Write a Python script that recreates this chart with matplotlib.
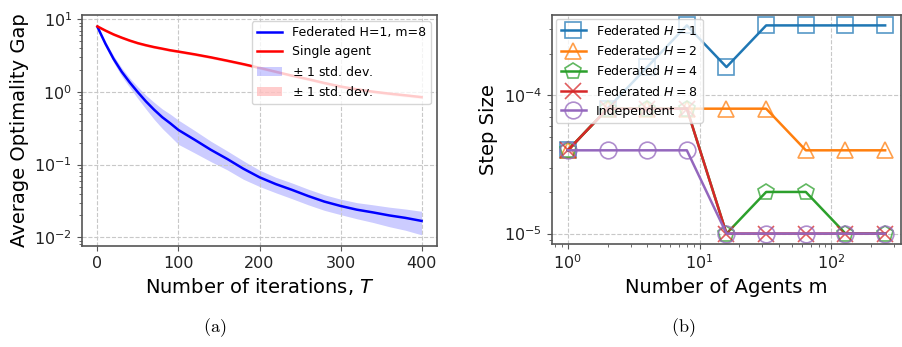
import matplotlib.pyplot as plt
from matplotlib.colors import to_rgba
import numpy as np

# (a) optimality gap vs iterations
iters = [0, 10, 20, 30, 40, 50, 60, 70, 80, 90, 100, 120, 140, 160, 180,
         200, 220, 240, 260, 280, 300, 320, 340, 360, 380, 400]
fed_mean = [7.9, 4.6, 2.85, 1.9, 1.35, 0.99, 0.74, 0.57, 0.45, 0.37, 0.30,
            0.22, 0.16, 0.12, 0.088, 0.067, 0.054, 0.045, 0.037, 0.031,
            0.027, 0.024, 0.022, 0.020, 0.0185, 0.0168]
fed_std = [0.3, 0.35, 0.3, 0.25, 0.2, 0.18, 0.16, 0.15, 0.135, 0.125, 0.11,
           0.075, 0.05, 0.035, 0.025, 0.017, 0.013, 0.011, 0.009, 0.0075,
           0.0065, 0.006, 0.006, 0.006, 0.006, 0.006]
single_mean = [8.0, 7.0, 6.2, 5.6, 5.1, 4.7, 4.4, 4.15, 3.95, 3.75, 3.6, 3.3,
               3.0, 2.7, 2.42, 2.15, 1.9, 1.68, 1.5, 1.33, 1.19, 1.09,
               1.01, 0.95, 0.9, 0.85]
single_std = [0.3, 0.28, 0.25, 0.22, 0.2, 0.18, 0.17, 0.16, 0.15, 0.15, 0.14,
              0.13, 0.12, 0.11, 0.1, 0.09, 0.08, 0.07, 0.065, 0.06, 0.055,
              0.05, 0.048, 0.045, 0.043, 0.04]

# (b) step size vs number of agents
agents = [1, 2, 4, 8, 16, 32, 64, 128, 256]
step_h1 = [4e-5, 8e-5, 1.6e-4, 3.2e-4, 1.6e-4, 3.2e-4, 3.2e-4, 3.2e-4, 3.2e-4]
step_h2 = [4e-5, 8e-5, 8e-5, 8e-5, 8e-5, 8e-5, 4e-5, 4e-5, 4e-5]
step_h4 = [4e-5, 8e-5, 8e-5, 8e-5, 1e-5, 2e-5, 2e-5, 1e-5, 1e-5]
step_h8 = [4e-5, 8e-5, 8e-5, 8e-5, 1e-5, 1e-5, 1e-5, 1e-5, 1e-5]
step_ind = [4e-5, 4e-5, 4e-5, 4e-5, 1e-5, 1e-5, 1e-5, 1e-5, 1e-5]

fig = plt.figure(figsize=(9.02, 3.47), dpi=100)
ax1 = fig.add_axes([82 / 902, 1 - 246 / 347, 355 / 902, 231 / 347])
ax2 = fig.add_axes([552 / 902, 1 - 244 / 347, 349 / 902, 229 / 347])

def style_axes(ax):
    ax.grid(True, which='major', linestyle='--', color='#c8c8c8', linewidth=0.8)
    for s in ax.spines.values():
        s.set_color('#555555')
        s.set_linewidth(1.2)
    ax.tick_params(which='both', colors='#555555', labelcolor='#222222', labelsize=11.5)

# panel (a)
it = np.array(iters)
fm, fs = np.array(fed_mean), np.array(fed_std)
sm, ss = np.array(single_mean), np.array(single_std)
ax1.plot(it, fm, color='blue', lw=1.8, label='Federated H=1, m=8')
ax1.plot(it, sm, color='red', lw=1.8, label='Single agent')
ax1.fill_between(it, fm - fs, fm + fs, color='blue', alpha=0.2, lw=0,
                 label=r'$\pm$ 1 std. dev.')
ax1.fill_between(it, sm - ss, sm + ss, color='red', alpha=0.2, lw=0,
                 label=r'$\pm$ 1 std. dev.')
ax1.set_yscale('log')
ax1.set_ylim(10 ** -2.12, 10 ** 1.06)
ax1.set_xlim(-19, 419)
ax1.set_xticks([0, 100, 200, 300, 400])
ax1.set_xlabel('Number of iterations, $T$', fontsize=14)
ax1.set_ylabel('Average Optimality Gap', fontsize=14)
style_axes(ax1)
ax1.legend(loc='upper right', fontsize=9, framealpha=0.8)

# panel (b)
series = [
    (step_h1, 's', 'C0', r'Federated $H=1$'),
    (step_h2, '^', 'C1', r'Federated $H=2$'),
    (step_h4, 'p', 'C2', r'Federated $H=4$'),
    (step_h8, 'x', 'C3', r'Federated $H=8$'),
    (step_ind, 'o', 'C4', 'Independent'),
]
for vals, mk, col, lab in series:
    ax2.plot(agents, vals, color=col, marker=mk, markersize=12,
             markerfacecolor='none', markeredgecolor=to_rgba(col, 0.75),
             markeredgewidth=1.2, lw=1.8, label=lab)
ax2.set_xscale('log')
ax2.set_yscale('log')
ax2.set_xlabel('Number of Agents m', fontsize=14)
ax2.set_ylabel('Step Size', fontsize=14)
style_axes(ax2)
ax2.legend(loc='upper left', fontsize=9, framealpha=0.8, borderaxespad=0.3)

fig.text(215 / 902, 1 - 328 / 347, r'$\mathrm{(a)}$', math_fontfamily='cm',
         fontsize=13, ha='center', va='center')
fig.text(683 / 902, 1 - 328 / 347, r'$\mathrm{(b)}$', math_fontfamily='cm',
         fontsize=13, ha='center', va='center')

fig.savefig('out.png', dpi=100)
